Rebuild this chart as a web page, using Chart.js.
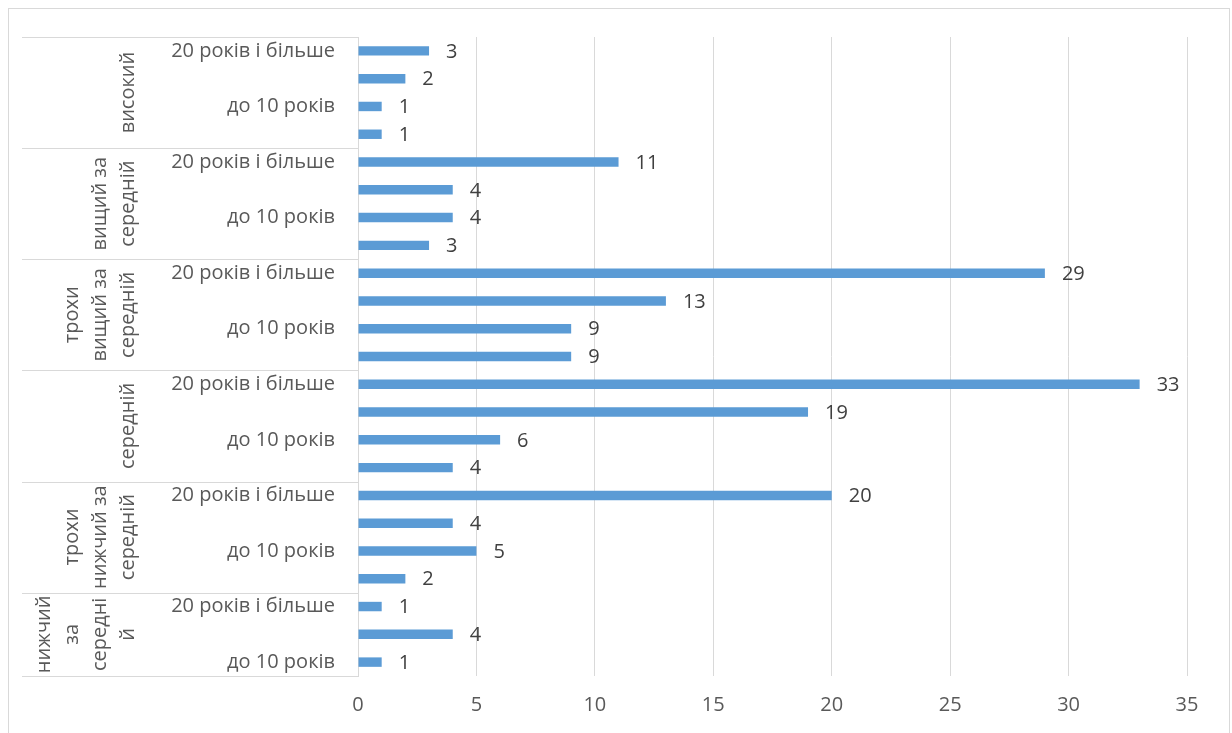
<!DOCTYPE html>
<html>
<head>
<meta charset="utf-8">
<script src="https://cdn.jsdelivr.net/npm/chart.js@4"></script>
<style>
  html, body { margin: 0; padding: 0; background: #fff; overflow: hidden; }
  #wrap { position: absolute; left: 0; top: 0; width: 1232px; height: 733px; }
</style>
</head>
<body>
<div id="wrap"><canvas id="popChart"></canvas></div>
<script>
// рівні (зверху вниз) і кількість стовпців у кожному
var groupNames = [
    ['високий'],
    ['вищий за', 'середній'],
    ['трохи', 'вищий за', 'середній'],
    ['середній'],
    ['трохи', 'нижчий за', 'середній'],
    ['нижчий', 'за', 'середні', 'й']
];
var groupSizes = [4, 4, 4, 4, 4, 3];

var labels = [
    '20 років і більше', '', 'до 10 років', '',
    '20 років і більше', '', 'до 10 років', '',
    '20 років і більше', '', 'до 10 років', '',
    '20 років і більше', '', 'до 10 років', '',
    '20 років і більше', '', 'до 10 років', '',
    '20 років і більше', '', 'до 10 років'
];
var values = [
    3, 2, 1, 1,
    11, 4, 4, 3,
    29, 13, 9, 9,
    33, 19, 6, 4,
    20, 4, 5, 2,
    1, 4, 1
];
var xTicks = [0, 5, 10, 15, 20, 25, 30, 35];

var FONT = '"Open Sans", sans-serif';

var framePlugin = {
    id: 'frame',
    beforeDraw: function(chart){
        var ctx = chart.ctx;
        ctx.save();
        ctx.fillStyle = '#fff';
        ctx.fillRect(0, 0, chart.width, chart.height);
        ctx.strokeStyle = '#d9d9d9';
        ctx.lineWidth = 1;
        ctx.strokeRect(8.5, 8.5, 1221, 740);
        ctx.restore();
    }
};

var groupPlugin = {
    id: 'groups',
    afterDraw: function(chart){
        var ctx = chart.ctx;
        var y = chart.scales.y;
        var area = chart.chartArea;
        ctx.save();
        ctx.strokeStyle = '#d9d9d9';
        ctx.lineWidth = 1;
        var start = 0;
        var bounds = [area.top];
        groupSizes.forEach(function(n){
            var end = start + n;
            var b = end >= values.length ? area.bottom
                : (y.getPixelForValue(end - 1) + y.getPixelForValue(end)) / 2;
            bounds.push(b);
            start = end;
        });
        bounds.forEach(function(b){
            var yy = Math.round(b) + 0.5;
            ctx.beginPath();
            ctx.moveTo(22, yy);
            ctx.lineTo(area.left, yy);
            ctx.stroke();
        });
        ctx.fillStyle = '#595959';
        ctx.font = '20px ' + FONT;
        ctx.textAlign = 'center';
        ctx.textBaseline = 'middle';
        groupNames.forEach(function(lines, g){
            var yc = (bounds[g] + bounds[g + 1]) / 2;
            lines.forEach(function(line, k){
                var x = 128 - 28 * (lines.length - 1 - k);
                ctx.save();
                ctx.translate(x, yc);
                ctx.rotate(-Math.PI / 2);
                ctx.fillText(line, 0, 0);
                ctx.restore();
            });
        });
        // підписи значень
        var meta = chart.getDatasetMeta(0);
        ctx.fillStyle = '#404040';
        ctx.textAlign = 'left';
        meta.data.forEach(function(bar, i){
            ctx.fillText(values[i], bar.x + 17, bar.y + 1);
        });
        ctx.restore();
    }
};

var popCanvas = document.getElementById('popChart');
var barChart = new Chart(popCanvas, {
    type: 'bar',
    data: {
        labels: labels,
        datasets: [{
            data: values,
            backgroundColor: '#5b9bd5',
            barPercentage: 0.34,
            categoryPercentage: 1
        }]
    },
    options: {
        indexAxis: 'y',
        responsive: true,
        maintainAspectRatio: false,
        animation: false,
        devicePixelRatio: 1,
        layout: { padding: { top: 37, right: 45, left: 0, bottom: 0 } },
        plugins: { legend: { display: false }, tooltip: { enabled: false } },
        scales: {
            x: {
                min: 0,
                max: 35,
                afterBuildTicks: function(scale){
                    scale.ticks = xTicks.map(function(v){ return { value: v }; });
                },
                afterFit: function(scale){ scale.height = 57; },
                grid: { color: '#d9d9d9', drawTicks: false },
                border: { display: false },
                ticks: { color: '#595959', padding: 17, font: { family: FONT, size: 20 } }
            },
            y: {
                afterFit: function(scale){ scale.width = 358; },
                grid: { display: false, drawTicks: false },
                border: { display: true, color: '#d9d9d9' },
                ticks: { color: '#595959', padding: 23, autoSkip: false, font: { family: FONT, size: 20 } }
            }
        }
    },
    plugins: [framePlugin, groupPlugin]
});
</script>
</body>
</html>
